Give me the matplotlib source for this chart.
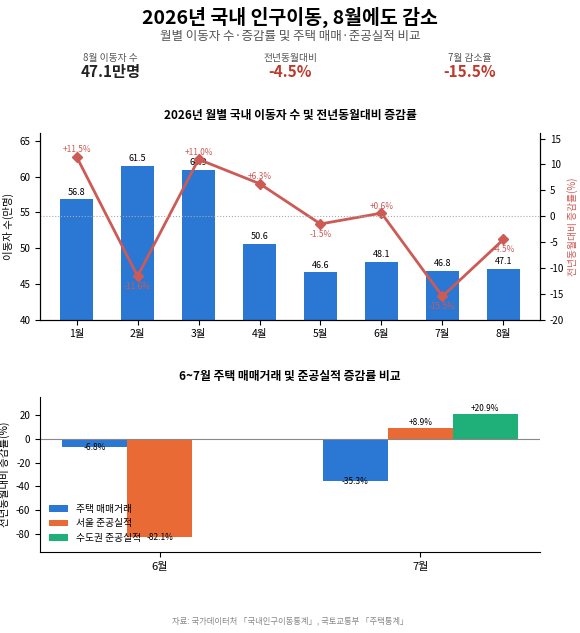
import numpy as np
import matplotlib.pyplot as plt

plt.rcParams['font.family'] = ['Noto Sans CJK KR', 'DejaVu Sans']
plt.rcParams['axes.unicode_minus'] = False

months = ['1월', '2월', '3월', '4월', '5월', '6월', '7월', '8월']
movers = [56.8, 61.5, 60.9, 50.6, 46.6, 48.1, 46.8, 47.1]
yoy = [11.5, -11.6, 11.0, 6.3, -1.5, 0.6, -15.5, -4.5]

periods = ['6월', '7월']
series_names = ['주택 매매거래', '서울 준공실적', '수도권 준공실적']
housing = [-6.8, -35.3]
seoul = [-82.1, 8.9]
capital = [np.nan, 20.9]

blue = '#2a77d4'
orange = '#e96a35'
green = '#1fb07a'
red = '#cd5a55'

fig = plt.figure(figsize=(5.8, 6.33), dpi=100)
fig.text(0.5, 0.972, '2026년 국내 인구이동, 8월에도 감소', ha='center', va='center', fontsize=14, fontweight='bold')
fig.text(0.5, 0.943, '월별 이동자 수·증감률 및 주택 매매·준공실적 비교', ha='center', va='center', fontsize=9, color='#555555')
for x, lab, val, col in [(0.19, '8월 이동자 수', '47.1만명', '#222222'),
                         (0.5, '전년동월대비', '-4.5%', '#c0392b'),
                         (0.81, '7월 감소율', '-15.5%', '#c0392b')]:
    fig.text(x, 0.908, lab, ha='center', va='center', fontsize=7, color='#555555')
    fig.text(x, 0.886, val, ha='center', va='center', fontsize=11, fontweight='bold', color=col)

# top chart
ax1 = fig.add_axes([0.069, 0.495, 0.862, 0.295])
x = np.arange(len(months))
ax1.bar(x, movers, width=0.55, color=blue)
for xi, v in zip(x, movers):
    ax1.text(xi, v + 0.4, f'{v}', ha='center', va='bottom', fontsize=6.5)
ax1.set_ylim(40, 66.1)
ax1.set_xlim(-0.6, 7.6)
ax1.set_xticks(x)
ax1.set_xticklabels(months, fontsize=7.5)
ax1.tick_params(axis='y', labelsize=7)
ax1.set_ylabel('이동자 수(만명)', fontsize=7.5)
ax1.spines['top'].set_visible(False)
ax1.set_title('2026년 월별 국내 이동자 수 및 전년동월대비 증감률', fontsize=8.5, fontweight='bold', pad=10)

ax2 = ax1.twinx()
ax2.plot(x, yoy, color=red, marker='D', markersize=5, linewidth=2)
ax2.axhline(0, color='#aaaaaa', linestyle=':', linewidth=0.8)
for xi, v in zip(x, yoy):
    off = 1.3 if v > 0 else -2.0
    ax2.text(xi, v + off, f'{v:+.1f}%', ha='center', va='center', fontsize=6, color=red)
ax2.set_ylim(-20, 16.1)
ax2.set_yticks(range(-20, 16, 5))
ax2.tick_params(axis='y', labelsize=7)
ax2.set_ylabel('전년동월대비 증감률(%)', fontsize=7, color=red, labelpad=2)
ax2.spines['top'].set_visible(False)

# bottom chart
ax3 = fig.add_axes([0.069, 0.128, 0.862, 0.245])
w = 0.25
px = np.arange(len(periods))
for i, (vals, name, col) in enumerate(zip([housing, seoul, capital], series_names, [blue, orange, green])):
    xs = px + (i - 1) * w
    ax3.bar(xs, vals, width=w, color=col, label=name)
    for xi, v in zip(xs, vals):
        if np.isnan(v):
            continue
        y = v + 1 if v > 0 else v - 1
        ax3.text(xi, y, f'{v:+.1f}%', ha='center', va='bottom' if v > 0 else 'center', fontsize=6)
ax3.axhline(0, color='#888888', linewidth=0.8)
ax3.set_xlim(-0.46, 1.46)
ax3.set_ylim(-95, 35)
ax3.set_xticks(px)
ax3.set_xticklabels(periods, fontsize=8)
ax3.tick_params(axis='y', labelsize=7)
ax3.set_ylabel('전년동월대비 증감률(%)', fontsize=7.5)
for s in ['top', 'right']:
    ax3.spines[s].set_visible(False)
ax3.set_title('6~7월 주택 매매거래 및 준공실적 증감률 비교', fontsize=8.5, fontweight='bold', pad=12)
ax3.legend(loc='lower left', fontsize=7, frameon=False)

fig.text(0.5, 0.019, '자료: 국가데이터처 「국내인구이동통계」, 국토교통부 「주택통계」', ha='center', va='center', fontsize=6, color='#888888')
fig.savefig('out.png', dpi=100)
